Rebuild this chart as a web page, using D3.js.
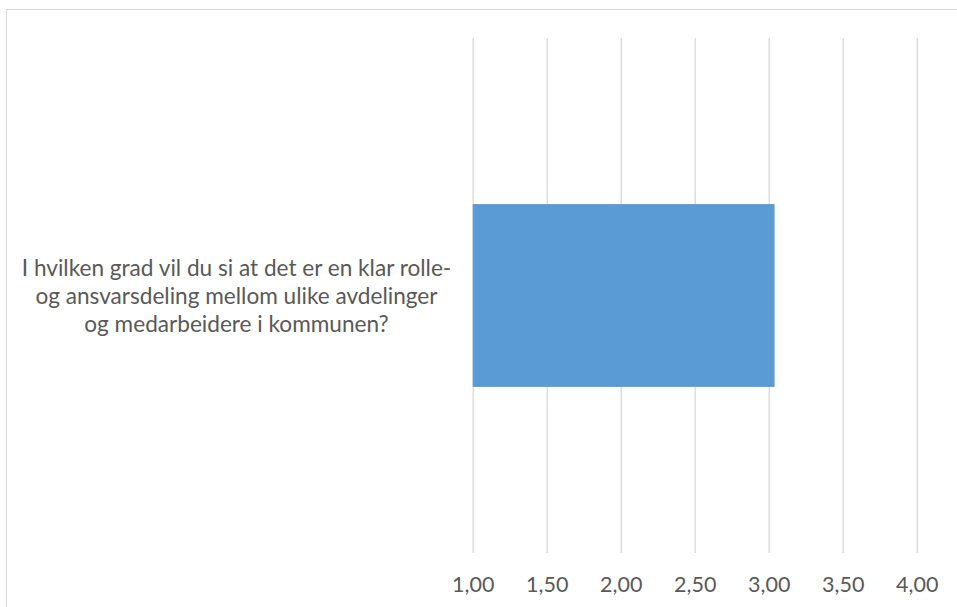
<!DOCTYPE html>
<html>
<head>
<meta charset="utf-8">
<script src="https://cdn.jsdelivr.net/npm/d3@7"></script>
<style>
  html, body { margin: 0; padding: 0; background: #fff; }
  svg { display: block; }
</style>
</head>
<body>
<svg id="chart" width="957" height="607"></svg>
<script>
const categories = ["I hvilken grad vil du si at det er en klar rolle- og ansvarsdeling mellom ulike avdelinger og medarbeidere i kommunen?"];
const categoryLines = [["I hvilken grad vil du si at det er en klar rolle-", "og ansvarsdeling mellom ulike avdelinger", "og medarbeidere i kommunen?"]];
const values = [3.04];
const tickValues = [1.0, 1.5, 2.0, 2.5, 3.0, 3.5, 4.0];
const tickLabels = ["1,00", "1,50", "2,00", "2,50", "3,00", "3,50", "4,00"];

const svg = d3.select("#chart");
const FONT = "Lato, 'Open Sans', sans-serif";
const TEXT = "#595959";

svg.append("rect").attr("x", 6.5).attr("y", 9.5).attr("width", 1000).attr("height", 700)
  .attr("fill", "#fff").attr("stroke", "#d9d9d9").attr("stroke-width", 1);

const x = d3.scaleLinear().domain([1, 4]).range([472.7, 916.7]);
const y = d3.scaleBand().domain(categories).range([38, 553]).paddingInner(0.645).paddingOuter(0.3225);

// gridlines
const grid = d3.axisBottom(x).tickValues(tickValues).tickSize(-(553 - 38)).tickFormat("");
svg.append("g").attr("transform", "translate(0,553)").call(grid)
  .call(g => g.select(".domain").remove())
  .call(g => g.selectAll(".tick line").attr("stroke", "#d9d9d9").attr("stroke-width", 1.3));

// bars
svg.append("g").selectAll("rect").data(values).enter().append("rect")
  .attr("x", x(1)).attr("y", (d, i) => y(categories[i]))
  .attr("width", d => x(d) - x(1)).attr("height", y.bandwidth())
  .attr("fill", "#5B9BD5");

// x axis labels
const xAxis = d3.axisBottom(x).tickValues(tickValues).tickSize(0).tickPadding(0)
  .tickFormat((d, i) => tickLabels[i]);
svg.append("g").attr("transform", "translate(0,577)").call(xAxis)
  .call(g => g.select(".domain").remove())
  .call(g => g.selectAll("text").attr("fill", TEXT).attr("font-family", FONT)
    .attr("font-size", 21.5).attr("dy", "0.71em"));

// category label
const lab = svg.append("g");
categories.forEach((c, i) => {
  const cy = y(c) + y.bandwidth() / 2;
  const lines = categoryLines[i];
  const t = lab.append("text").attr("text-anchor", "middle").attr("fill", TEXT)
    .attr("font-family", FONT).attr("font-size", 22.6);
  lines.forEach((ln, j) => {
    t.append("tspan").attr("x", 236.5).attr("y", cy + (j - (lines.length - 1) / 2) * 28 + 8).text(ln);
  });
});
</script>
</body>
</html>
